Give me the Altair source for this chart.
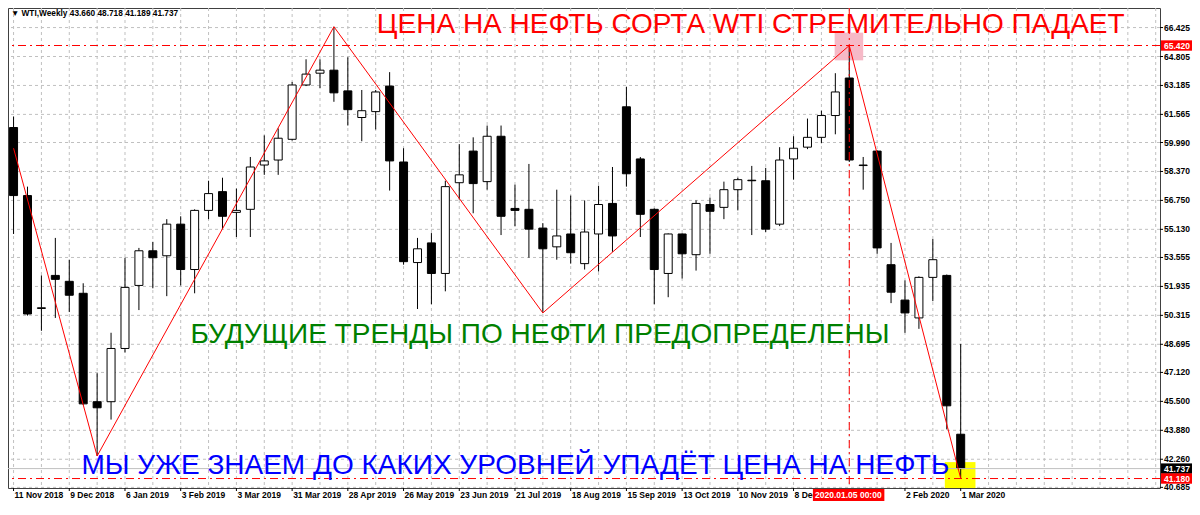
import altair as alt
import pandas as pd
import numpy as np

# ---- weekly WTI candles (bar 0 = week of 11 Nov 2018, bar 68 = week of 1 Mar 2020)
opens = [60.83, 57.02, 50.70, 52.55, 52.22, 51.55, 45.48, 45.48, 48.46, 51.99,
         53.93, 53.65, 55.42, 52.88, 56.19, 57.24, 56.08, 56.25, 58.73, 59.01,
         60.17, 63.21, 63.87, 64.04, 62.88, 61.39, 61.72, 63.15, 58.90, 53.27,
         54.37, 52.66, 57.74, 59.51, 57.80, 60.34, 56.30, 56.25, 55.20, 54.15,
         54.87, 53.21, 54.87, 56.58, 61.99, 59.07, 56.25, 52.66, 54.87, 53.71,
         56.52, 56.36, 57.35, 57.88, 57.85, 55.42, 59.07, 59.73, 60.28, 61.50,
         63.60, 58.70, 59.51, 53.15, 51.17, 50.17, 52.44, 52.55, 43.660]
highs = [61.44, 57.52, 52.55, 54.65, 53.43, 52.11, 47.08, 49.34, 53.54, 54.09,
         54.43, 55.70, 55.86, 56.25, 57.85, 58.02, 57.41, 59.18, 60.39, 60.78,
         63.38, 64.65, 64.65, 66.47, 64.76, 62.93, 62.93, 63.93, 59.67, 54.65,
         54.92, 57.85, 59.90, 60.28, 60.94, 60.94, 57.63, 58.79, 55.48, 57.35,
         57.02, 56.75, 57.57, 58.62, 63.10, 59.18, 56.30, 54.90, 54.90, 56.75,
         56.91, 57.80, 58.02, 58.68, 58.57, 59.73, 60.34, 61.33, 61.77, 63.87,
         65.42, 59.18, 59.55, 54.37, 52.27, 52.50, 54.59, 52.60, 48.718]
lows = [54.87, 50.30, 49.45, 50.17, 50.50, 45.30, 42.44, 44.48, 48.24, 50.61,
        51.83, 51.39, 51.99, 51.55, 55.70, 55.14, 54.70, 54.70, 58.18, 58.18,
        60.10, 63.15, 63.04, 62.27, 60.94, 60.06, 60.72, 57.30, 53.15, 50.67,
        50.94, 51.66, 56.80, 56.03, 57.35, 54.81, 55.31, 53.54, 50.45, 53.43,
        53.21, 52.88, 52.77, 53.87, 57.52, 54.70, 50.94, 51.33, 52.38, 52.82,
        53.76, 55.70, 56.19, 54.81, 54.98, 55.31, 57.91, 59.62, 59.95, 60.45,
        58.90, 57.35, 53.76, 51.00, 49.34, 49.56, 51.11, 43.93, 41.189]
closes = [57.02, 50.39, 50.74, 52.33, 51.44, 45.36, 45.14, 48.46, 51.88, 53.93,
          53.54, 55.42, 52.88, 56.19, 57.13, 55.86, 56.19, 58.62, 58.96, 60.23,
          63.21, 63.82, 64.04, 62.77, 61.83, 61.77, 62.82, 58.96, 53.32, 54.04,
          52.66, 57.52, 58.18, 57.69, 60.34, 55.86, 56.19, 55.14, 54.04, 54.76,
          53.82, 54.98, 56.52, 54.76, 58.24, 55.97, 52.88, 54.87, 53.76, 56.58,
          56.14, 57.35, 57.91, 57.85, 55.14, 59.01, 59.67, 60.28, 61.50, 62.82,
          59.01, 58.73, 54.09, 51.61, 50.45, 52.44, 53.43, 45.25, 41.737]

# x-axis labels, one every 4 weekly bars
date_labels = ["11 Nov 2018", "9 Dec 2018", "6 Jan 2019", "3 Feb 2019", "3 Mar 2019",
               "31 Mar 2019", "28 Apr 2019", "26 May 2019", "23 Jun 2019", "21 Jul 2019",
               "18 Aug 2019", "15 Sep 2019", "13 Oct 2019", "10 Nov 2019", "8 Dec 2019",
               "5 Jan 2020", "2 Feb 2020", "1 Mar 2020"]
label_step = 4
grid_bars = list(range(0, 83, 2))
price_ticks = [66.425, 64.805, 63.185, 61.565, 59.990, 58.370, 56.750, 55.130, 53.555,
               51.935, 50.315, 48.695, 47.120, 45.500, 43.880, 42.260, 40.685]

# zigzag pivots
zz_bar = [0, 6, 23, 38, 60, 68]
zz_price = [59.67, 42.44, 66.47, 50.45, 65.42, 41.189]

# horizontal levels and selected bar
level_prices = [65.420, 41.180]
last_price = 41.737
pivot_bar = 60
pivot_label = "2020.01.05 00:00"

# highlight squares (pink at the top pivot, yellow at the last low)
hl_bar0 = [58.95, 66.86]
hl_bar1 = [61.00, 69.06]
hl_lo = [64.59, 40.45]
hl_hi = [66.14, 42.10]
hl_color = ["#f6b9c7", "#ffff00"]

# text annotations (anchored at bar / price)
note_text = ["ЦЕНА НА НЕФТЬ СОРТА WTI СТРЕМИТЕЛЬНО ПАДАЕТ",
             "БУДУЩИЕ ТРЕНДЫ ПО НЕФТИ ПРЕДОПРЕДЕЛЕНЫ",
             "МЫ УЖЕ ЗНАЕМ ДО КАКИХ УРОВНЕЙ УПАДЁТ ЦЕНА НА НЕФТЬ"]
note_bar = [26.08, 12.70, 4.87]
note_price = [66.12, 48.74, 41.44]
note_color = ["#ff0000", "#008000", "#0000ff"]

header = "▼  WTI,Weekly  43.660 48.718 41.189 41.737"

# ---------------------------------------------------------------------------
W, H = 1152, 480
XD = [-0.04, 81.95]
YD = [40.65, 67.52]
FONT = "Liberation Sans"
GRID = "#c0c0c0"
DASHDOT = [8, 4, 2, 4]

xs = alt.Scale(domain=XD, nice=False, zero=False)
ys = alt.Scale(domain=YD, nice=False, zero=False)


def X(field):
    return alt.X(f"{field}:Q", scale=xs, axis=None, title=None)


def Y(field):
    return alt.Y(f"{field}:Q", scale=ys, axis=None, title=None)


candles = pd.DataFrame({"i": range(len(opens)), "open": opens, "high": highs,
                        "low": lows, "close": closes})
candles["dir"] = np.where(candles["close"] >= candles["open"], "up", "down")

# ---- grid and axis labels
vgrid = alt.Chart(pd.DataFrame({"i": grid_bars})).mark_rule(
    color=GRID, strokeWidth=1, strokeDash=[3, 3]).encode(x=X("i"))
ytick_df = pd.DataFrame({"p": price_ticks})
ytick_df["t"] = ytick_df["p"].map(lambda v: f"{v:.3f}")
hgrid = alt.Chart(ytick_df).mark_rule(
    color=GRID, strokeWidth=1, strokeDash=[3, 3]).encode(y=Y("p"))
yticks = alt.Chart(ytick_df).mark_rule(color="#000000", strokeWidth=1, clip=False).encode(
    x=alt.value(W), x2=alt.value(W + 3), y=Y("p"))
ylabels = alt.Chart(ytick_df).mark_text(
    font=FONT, fontSize=8.5, fontWeight="bold", align="left", baseline="middle",
    color="#000000", clip=False).encode(x=alt.value(W + 4), y=Y("p"), text="t:N")

xlab_df = pd.DataFrame({"i": [k * label_step for k in range(len(date_labels))],
                        "t": date_labels})
xlab_df = xlab_df[xlab_df["i"] != pivot_bar]
xticks = alt.Chart(xlab_df).mark_rule(color="#000000", strokeWidth=1, clip=False).encode(
    x=X("i"), y=alt.value(H), y2=alt.value(H + 3))
xlabels = alt.Chart(xlab_df).mark_text(
    font=FONT, fontSize=8.5, fontWeight="bold", align="left", baseline="top",
    dx=1, color="#000000", clip=False).encode(x=X("i"), y=alt.value(H + 3), text="t:N")

# ---- chart content
hl = pd.DataFrame({"x0": hl_bar0, "x1": hl_bar1, "lo": hl_lo, "hi": hl_hi, "c": hl_color})
highlights = alt.Chart(hl).mark_rect(clip=True).encode(
    x=X("x0"), x2="x1", y=Y("lo"), y2="hi", color=alt.Color("c:N", scale=None))

wicks = alt.Chart(candles).mark_rule(color="#000000", strokeWidth=1, clip=True).encode(
    x=X("i"), y=Y("low"), y2="high")

bodies = alt.Chart(candles).mark_bar(size=8, stroke="#000000", strokeWidth=1, clip=True).encode(
    x=X("i"), y=Y("open"), y2="close",
    fill=alt.Fill("dir:N", scale=alt.Scale(domain=["up", "down"], range=["#ffffff", "#000000"]),
                  legend=None))

zz = pd.DataFrame({"i": zz_bar, "p": zz_price})
zigzag = alt.Chart(zz).mark_line(color="#ff0000", strokeWidth=1, clip=True).encode(
    x=X("i"), y=Y("p"))

lastline = alt.Chart(pd.DataFrame({"p": [last_price]})).mark_rule(
    color="#c0c0c0", strokeWidth=1).encode(y=Y("p"))

levels = alt.Chart(pd.DataFrame({"p": level_prices})).mark_rule(
    color="#ff0000", strokeWidth=1, strokeDash=DASHDOT).encode(y=Y("p"))

vline = alt.Chart(pd.DataFrame({"i": [pivot_bar]})).mark_rule(
    color="#ff0000", strokeWidth=1, strokeDash=DASHDOT).encode(x=X("i"))

notes = pd.DataFrame({"x": note_bar, "y": note_price, "t": note_text, "c": note_color})
texts = alt.Chart(notes).mark_text(font=FONT, fontSize=28, align="left",
                                   baseline="alphabetic").encode(
    x=X("x"), y=Y("y"), text="t:N", color=alt.Color("c:N", scale=None))

boxes_df = pd.DataFrame({
    "p": [level_prices[0], last_price, level_prices[1]],
    "bg": ["#ff0000", "#000000", "#ff0000"],
})
boxes_df["lo"] = boxes_df["p"] - 0.29
boxes_df["hi"] = boxes_df["p"] + 0.29
boxes_df["t"] = boxes_df["p"].map(lambda v: f"{v:.3f}")
pbox = alt.Chart(boxes_df).mark_rect(clip=False).encode(
    x=alt.value(W + 1), x2=alt.value(W + 32), y=Y("lo"), y2="hi",
    color=alt.Color("bg:N", scale=None))
ptext = alt.Chart(boxes_df).mark_text(font=FONT, fontSize=8.5, fontWeight="bold",
                                      align="left", baseline="middle", color="#ffffff",
                                      clip=False).encode(
    x=alt.value(W + 4), y=Y("p"), text="t:N")

dbox_df = pd.DataFrame({"x0": [pivot_bar - 2.61], "x1": [pivot_bar + 2.52],
                        "xt": [pivot_bar - 2.46], "t": [pivot_label]})
dbox = alt.Chart(dbox_df).mark_rect(color="#ff0000", clip=False).encode(
    x=X("x0"), x2="x1", y=alt.value(H + 1), y2=alt.value(H + 13))
dtext = alt.Chart(dbox_df).mark_text(font=FONT, fontSize=8.5, fontWeight="bold",
                                     align="left", baseline="middle", color="#ffffff",
                                     clip=False).encode(
    x=X("xt"), y=alt.value(H + 7), text="t:N")

head = alt.Chart(pd.DataFrame({"t": [header]})).mark_text(
    font=FONT, fontSize=8.3, fontWeight="bold", align="left", baseline="middle",
    color="#000000").encode(x=alt.value(3), y=alt.value(6), text="t:N")

chart = alt.layer(
    vgrid, hgrid, highlights, wicks, bodies, lastline, levels, vline, zigzag, texts,
    yticks, ylabels, xticks, xlabels, pbox, ptext, dbox, dtext, head
).properties(
    width=W, height=H,
    padding={"left": 0, "top": 0, "right": 32, "bottom": 13},
    autosize=alt.AutoSizeParams(type="none"),
    background="#ffffff",
).configure_view(stroke="#404040", strokeWidth=1)

chart.save("out.html", embed_options={"renderer": "svg", "actions": False})
